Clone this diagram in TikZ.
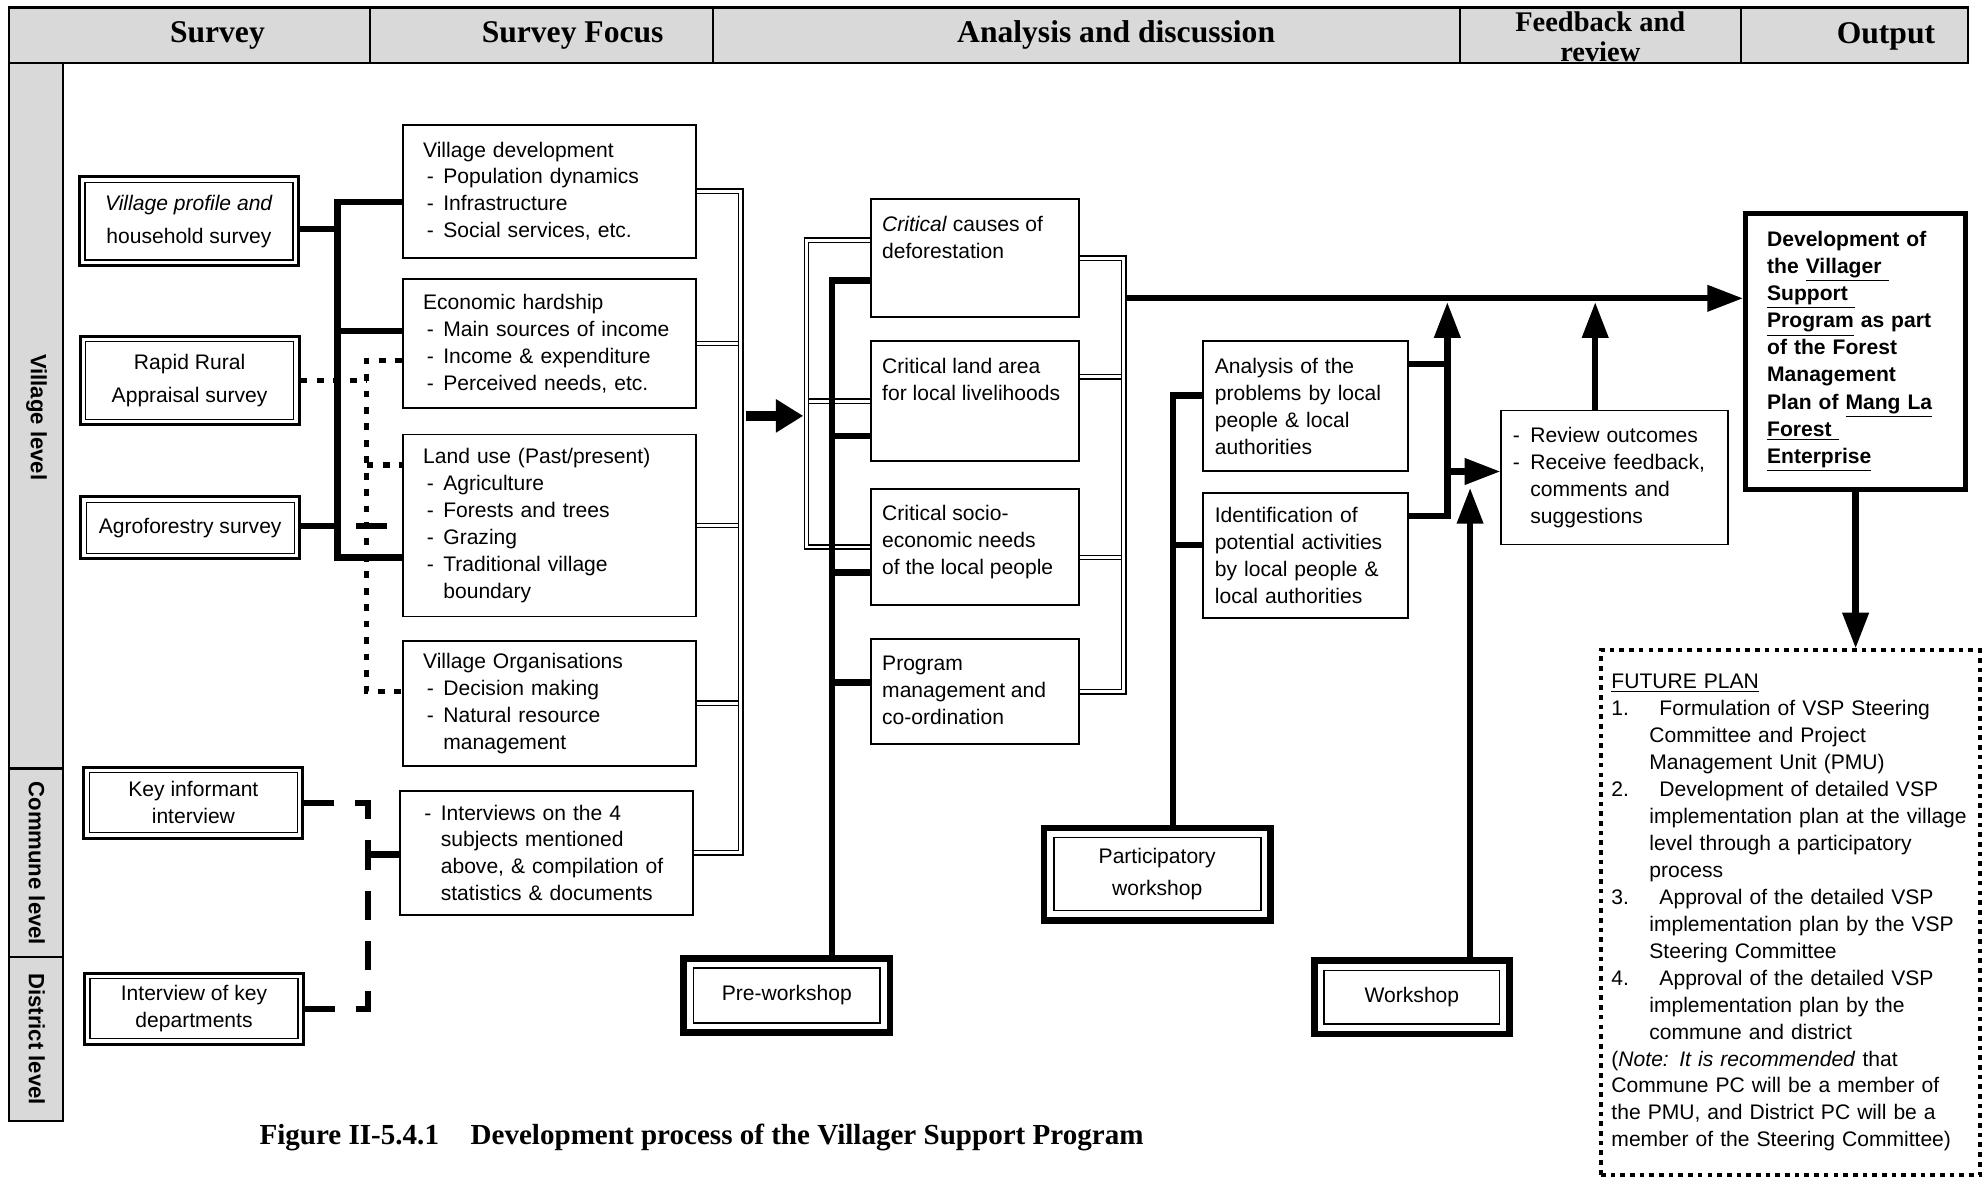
\documentclass[tikz,border=0pt]{standalone}
\usepackage{fontspec}
\setmainfont{Liberation Sans}
\newfontfamily\hdfont{Liberation Serif}
\usetikzlibrary{arrows.meta}

% list helpers
\newcommand{\bl}{\makebox[9.6pt][l]{\hspace{1.8pt}-}}
\newcommand{\hg}{\hspace*{9.6pt}}
\newcommand{\rb}{\makebox[8.4pt][l]{-}}
\newcommand{\pnum}[1]{\makebox[22.8pt][l]{#1}}
\newcommand{\pg}{\hspace*{18pt}}

\begin{document}
\begin{tikzpicture}[x=0.6pt,y=-0.6pt]
	\tikzset{txt/.style = {font=\fontsize{10pt}{12.8pt}\selectfont}}
	\tikzset{survey/.style = {txt, draw, line width=1.4pt, minimum width=104pt, align=center,
		path picture={\draw[line width=.6pt] ([shift={(2.6pt,2.6pt)}]path picture bounding box.south west) rectangle ([shift={(-2.6pt,-2.6pt)}]path picture bounding box.north east);}}}
	\tikzset{wshop/.style = {txt, draw, line width=3.2pt, align=center,
		path picture={\draw[line width=.8pt] ([shift={(4.6pt,4.6pt)}]path picture bounding box.south west) rectangle ([shift={(-4.6pt,-4.6pt)}]path picture bounding box.north east);}}}
	\tikzset{focus/.style = {txt, draw, line width=.9pt, anchor=north west, inner xsep=9.6pt, text width=119.8pt, align=left}}
	\tikzset{crit/.style = {txt, draw, line width=.9pt, anchor=north west, inner xsep=5.5pt, inner ysep=8pt}}
	\tikzset{anbox/.style = {txt, draw, line width=.9pt, anchor=north west, inner xsep=5.6pt, text width=86pt, align=left}}
	\tikzset{rvbox/.style = {txt, draw, line width=.9pt, anchor=north west, inner xsep=5.4pt, text width=96.6pt, align=left}}
	\tikzset{outbox/.style = {font=\bfseries\fontsize{10pt}{12.9pt}\selectfont, draw, line width=2.4pt, anchor=north west, inner xsep=10.2pt, text width=84pt, minimum height=130.8pt, align=left}}
	\tikzset{plan/.style = {txt, draw, line width=1.8pt, dash pattern=on 2.2pt off 2.4pt, anchor=north west, inner xsep=5pt, text width=170pt, minimum height=249pt, align=left}}
	\tikzset{hdr/.style = {font=\hdfont\bfseries\fontsize{15pt}{14pt}\selectfont, align=center}}
	\tikzset{lvl/.style = {font=\bfseries\fontsize{10.5pt}{12pt}\selectfont, rotate=-90}}
	\tikzset{thk/.style = {line width=3pt}}
	\tikzset{dbl/.style = {double, double distance=1.4pt, line width=.7pt}}
	\tikzset{dots/.style = {line width=2.6pt, dash pattern=on 3.2pt off 4.6pt}}
	\tikzset{dsh/.style = {line width=3pt, dash pattern=on 14pt off 10pt}}
	\tikzset{arr/.style = {line width=3pt, -{Triangle[length=17pt, width=12pt]}}}
	\useasboundingbox (0,0) rectangle (1568,932);
	% Header and level band
	\fill[black!15] (7,6) rectangle (1557,50);
	\fill[black!15] (7,50) rectangle (50,887);
	\draw[line width=1.2pt] (7,6) rectangle (1557,50);
	\draw[line width=1.2pt] (7,50) rectangle (50,887);
	\foreach \x in {293,564,1155,1377} \draw[line width=1pt] (\x,6) -- (\x,50);
	\foreach \y in {608,757} \draw[line width=1pt] (7,\y) -- (50,\y);
	\node[hdr] (h1) at (172,28) {Survey};
	\node[hdr] (h2) at (453,28) {Survey Focus};
	\node[hdr] (h3) at (883,28) {Analysis and discussion};
	\node[hdr, font=\hdfont\bfseries\fontsize{13.5pt}{14.5pt}\selectfont, inner ysep=0pt] (h4) at (1266,29) {Feedback and\\review};
	\node[hdr] (h5) at (1492,29) {Output};
	\node[lvl] (lv1) at (29,330) {Village level};
	\node[lvl] (lv2) at (29,683) {Commune level};
	\node[lvl] (lv3) at (29,822) {District level};
	% Survey
	\node[survey, minimum height=42pt] (vp) at (149.5,175) {\textit{Village profile and}\\[3pt]household survey};
	\node[survey, minimum height=42pt] (rr) at (150,301) {Rapid Rural\\[3pt]Appraisal survey};
	\node[survey, minimum height=29.4pt] (af) at (150.5,417.5) {Agroforestry survey};
	\node[survey, minimum height=33.6pt] (ki) at (153,635) {Key informant\\interview};
	\node[survey, minimum height=33.6pt] (kd) at (153.5,798) {Interview of key\\departments};
	% Survey focus
	\node[focus, minimum height=63pt] (vd) at (318,98) {Village development\\ \bl Population dynamics\\ \bl Infrastructure\\ \bl Social services, etc.};
	\node[focus, minimum height=61.2pt] (eh) at (318,220) {Economic hardship\\ \bl Main sources of income\\ \bl Income \& expenditure\\ \bl Perceived needs, etc.};
	\node[focus, minimum height=86.4pt] (lu) at (318,343) {Land use (Past/present)\\ \bl Agriculture\\ \bl Forests and trees\\ \bl Grazing\\ \bl Traditional village\\ \hg boundary};
	\node[focus, minimum height=59.4pt] (vo) at (318,506) {Village Organisations\\ \bl Decision making\\ \bl Natural resource\\ \hg management};
	\node[focus, minimum height=58.8pt] (iv) at (316,625) {\bl Interviews on the 4\\ \hg subjects mentioned\\ \hg above, \& compilation of\\ \hg statistics \& documents};
	% Analysis and discussion
	\node[crit] (m1) at (688,157) {\parbox[t][39.8pt][t]{88pt}{\textit{Critical} causes of\\deforestation}};
	\node[crit] (m2) at (688,269) {\parbox[t][41pt][t]{88pt}{Critical land area\\for local livelihoods}};
	\node[crit] (m3) at (688,386) {\parbox[t][39.2pt][t]{88pt}{Critical socio-\\economic needs\\of the local people}};
	\node[crit] (m4) at (688,505) {\parbox[t][33.8pt][t]{88pt}{Program\\management and\\co-ordination}};
	\node[anbox, minimum height=61.8pt] (an) at (951,269) {Analysis of the\\problems by local\\people \& local\\authorities};
	\node[anbox, minimum height=59.4pt] (id) at (951,389) {Identification of\\potential activities\\by local people \&\\local authorities};
	\node[wshop, minimum width=97.8pt, minimum height=35.4pt] (pw) at (622.5,787.5) {Pre-workshop};
	\node[wshop, minimum width=107.4pt, minimum height=43.8pt] (pws) at (915.5,691.5) {Participatory\\[2.4pt]workshop};
	\node[wshop, minimum width=92.4pt, minimum height=34.8pt] (ws) at (1117,789) {Workshop};
	% Feedback and output
	\node[rvbox, minimum height=63.6pt] (rv) at (1187,324) {\rb Review outcomes\\ \rb Receive feedback,\\ \hspace*{8.4pt}comments and\\ \hspace*{8.4pt}suggestions};
	\node[outbox] (out) at (1379,167) {Development of\\the \underline{Villager\ }\\\underline{Support\ }\\\underline{Program} as part\\of the Forest\\Management\\Plan of \underline{Mang La}\\\underline{Forest\ }\\\underline{Enterprise}};
	\node[plan] (plan) at (1265,513) {\underline{FUTURE PLAN}\\
		\pnum{1.}Formulation of VSP Steering\\
		\pg Committee and Project\\
		\pg Management Unit (PMU)\\
		\pnum{2.}Development of detailed VSP\\
		\pg implementation plan at the village\\
		\pg level through a participatory\\
		\pg process\\
		\pnum{3.}Approval of the detailed VSP\\
		\pg implementation plan by the VSP\\
		\pg Steering Committee\\
		\pnum{4.}Approval of the detailed VSP\\
		\pg implementation plan by the\\
		\pg commune and district\\
		(\textit{Note: It is recommended} that\\
		Commune PC will be a member of\\
		the PMU, and District PC will be a\\
		member of the Steering Committee)};
	\node[font=\hdfont\bfseries\fontsize{13.8pt}{15pt}\selectfont] (cap) at (555,900) {Figure II-5.4.1\hspace{15pt}Development process of the Villager Support Program};
	% Survey to survey focus
	\coordinate (t1) at (267,160);
	\coordinate (t2) at (267,441);
	\coordinate (t3) at (267,262);
	\coordinate (t4) at (267,181);
	\coordinate (t5) at (267,416);
	\coordinate (s1) at (282,416);
	\coordinate (s2) at (306,416);
	\draw[thk] (vd.west |- t1) -- (t1) -- (t2) -- (t2 -| lu.west);
	\draw[thk] (t3) -- (t3 -| eh.west);
	\draw[thk] (vp.east |- t4) -- (t4);
	\draw[thk] (af.east |- t5) -- (t5);
	\draw[thk] (s1) -- (s2);
	\coordinate (d1) at (290,285);
	\coordinate (d2) at (290,368);
	\coordinate (d3) at (290,547);
	\draw[dots] (rr.east) -- (rr.east -| d1);
	\draw[dots] (eh.west |- d1) -- (d1) -- (d3) -- (d3 -| vo.west);
	\draw[dots] (d2) -- (d2 -| lu.west);
	\coordinate (k1) at (291,714);
	\coordinate (k2) at (291,676);
	\draw[dsh] (ki.east) -| (k1);
	\draw[dsh] (kd.east) -| (k1);
	\draw[thk] (k2) -- (k2 -| iv.west);
	% Survey focus to analysis
	\coordinate (fr) at (586,0);
	\draw[dbl] (eh.east) -- (eh.east -| fr);
	\draw[dbl] (lu.east) -- (lu.east -| fr);
	\draw[dbl] (vo.east) -- (vo.east -| fr);
	\draw[dbl] (vd.east) -| (fr |- iv.east) -- (iv.east);
	\coordinate (a1) at (590,329);
	\coordinate (ml) at (638,0);
	\draw[line width=4.5pt, -{Triangle[length=13pt, width=15pt]}, shorten >=1.5pt] (a1) -- (a1 -| ml);
	\coordinate (c1) at (638,190);
	\draw[dbl] (m2.west) -- (m2.west -| ml);
	\draw[dbl] (m1.west |- c1) -- (c1) |- (m3.west);
	\coordinate (p1) at (658,222);
	\coordinate (p2) at (658,345);
	\coordinate (p3) at (658,453);
	\coordinate (p4) at (658,540);
	\draw[thk] (pw.north -| p1) -- (p1) -- (p1 -| m1.west);
	\draw[thk] (p2) -- (p2 -| m2.west);
	\draw[thk] (p3) -- (p3 -| m3.west);
	\draw[thk] (p4) -- (p4 -| m4.west);
	\coordinate (mr) at (889,0);
	\coordinate (q2) at (889,298);
	\coordinate (q3) at (889,441);
	\draw[dbl] (m2.east |- q2) -- (q2);
	\draw[dbl] (m3.east |- q3) -- (q3);
	\draw[dbl] (m1.east) -| (mr |- m4.east) -- (m4.east);
	% Main line to output
	\coordinate (q0) at (891,236);
	\draw[arr] (q0) -- (q0 -| out.west);
	\coordinate (r1) at (928,313);
	\coordinate (r2) at (928,431);
	\draw[thk] (pws.north -| r1) -- (r1) -- (r1 -| an.west);
	\draw[thk] (r2) -- (r2 -| id.west);
	\coordinate (u0) at (1145,239);
	\coordinate (u1) at (1145,288);
	\coordinate (u2) at (1145,408);
	\coordinate (u3) at (1145,373);
	\draw[thk] (an.east |- u1) -- (u1);
	\draw[arr] (id.east |- u2) -- (u2) -- (u0);
	\draw[arr] (u3) -- (u3 -| rv.west);
	\coordinate (w1) at (1163,386);
	\draw[arr] (ws.north -| w1) -- (w1);
	\coordinate (v1) at (1262,239);
	\draw[arr] (rv.north -| v1) -- (v1);
	\draw[arr] (out.south) -- (out.south |- plan.north);
\end{tikzpicture}
\end{document}
